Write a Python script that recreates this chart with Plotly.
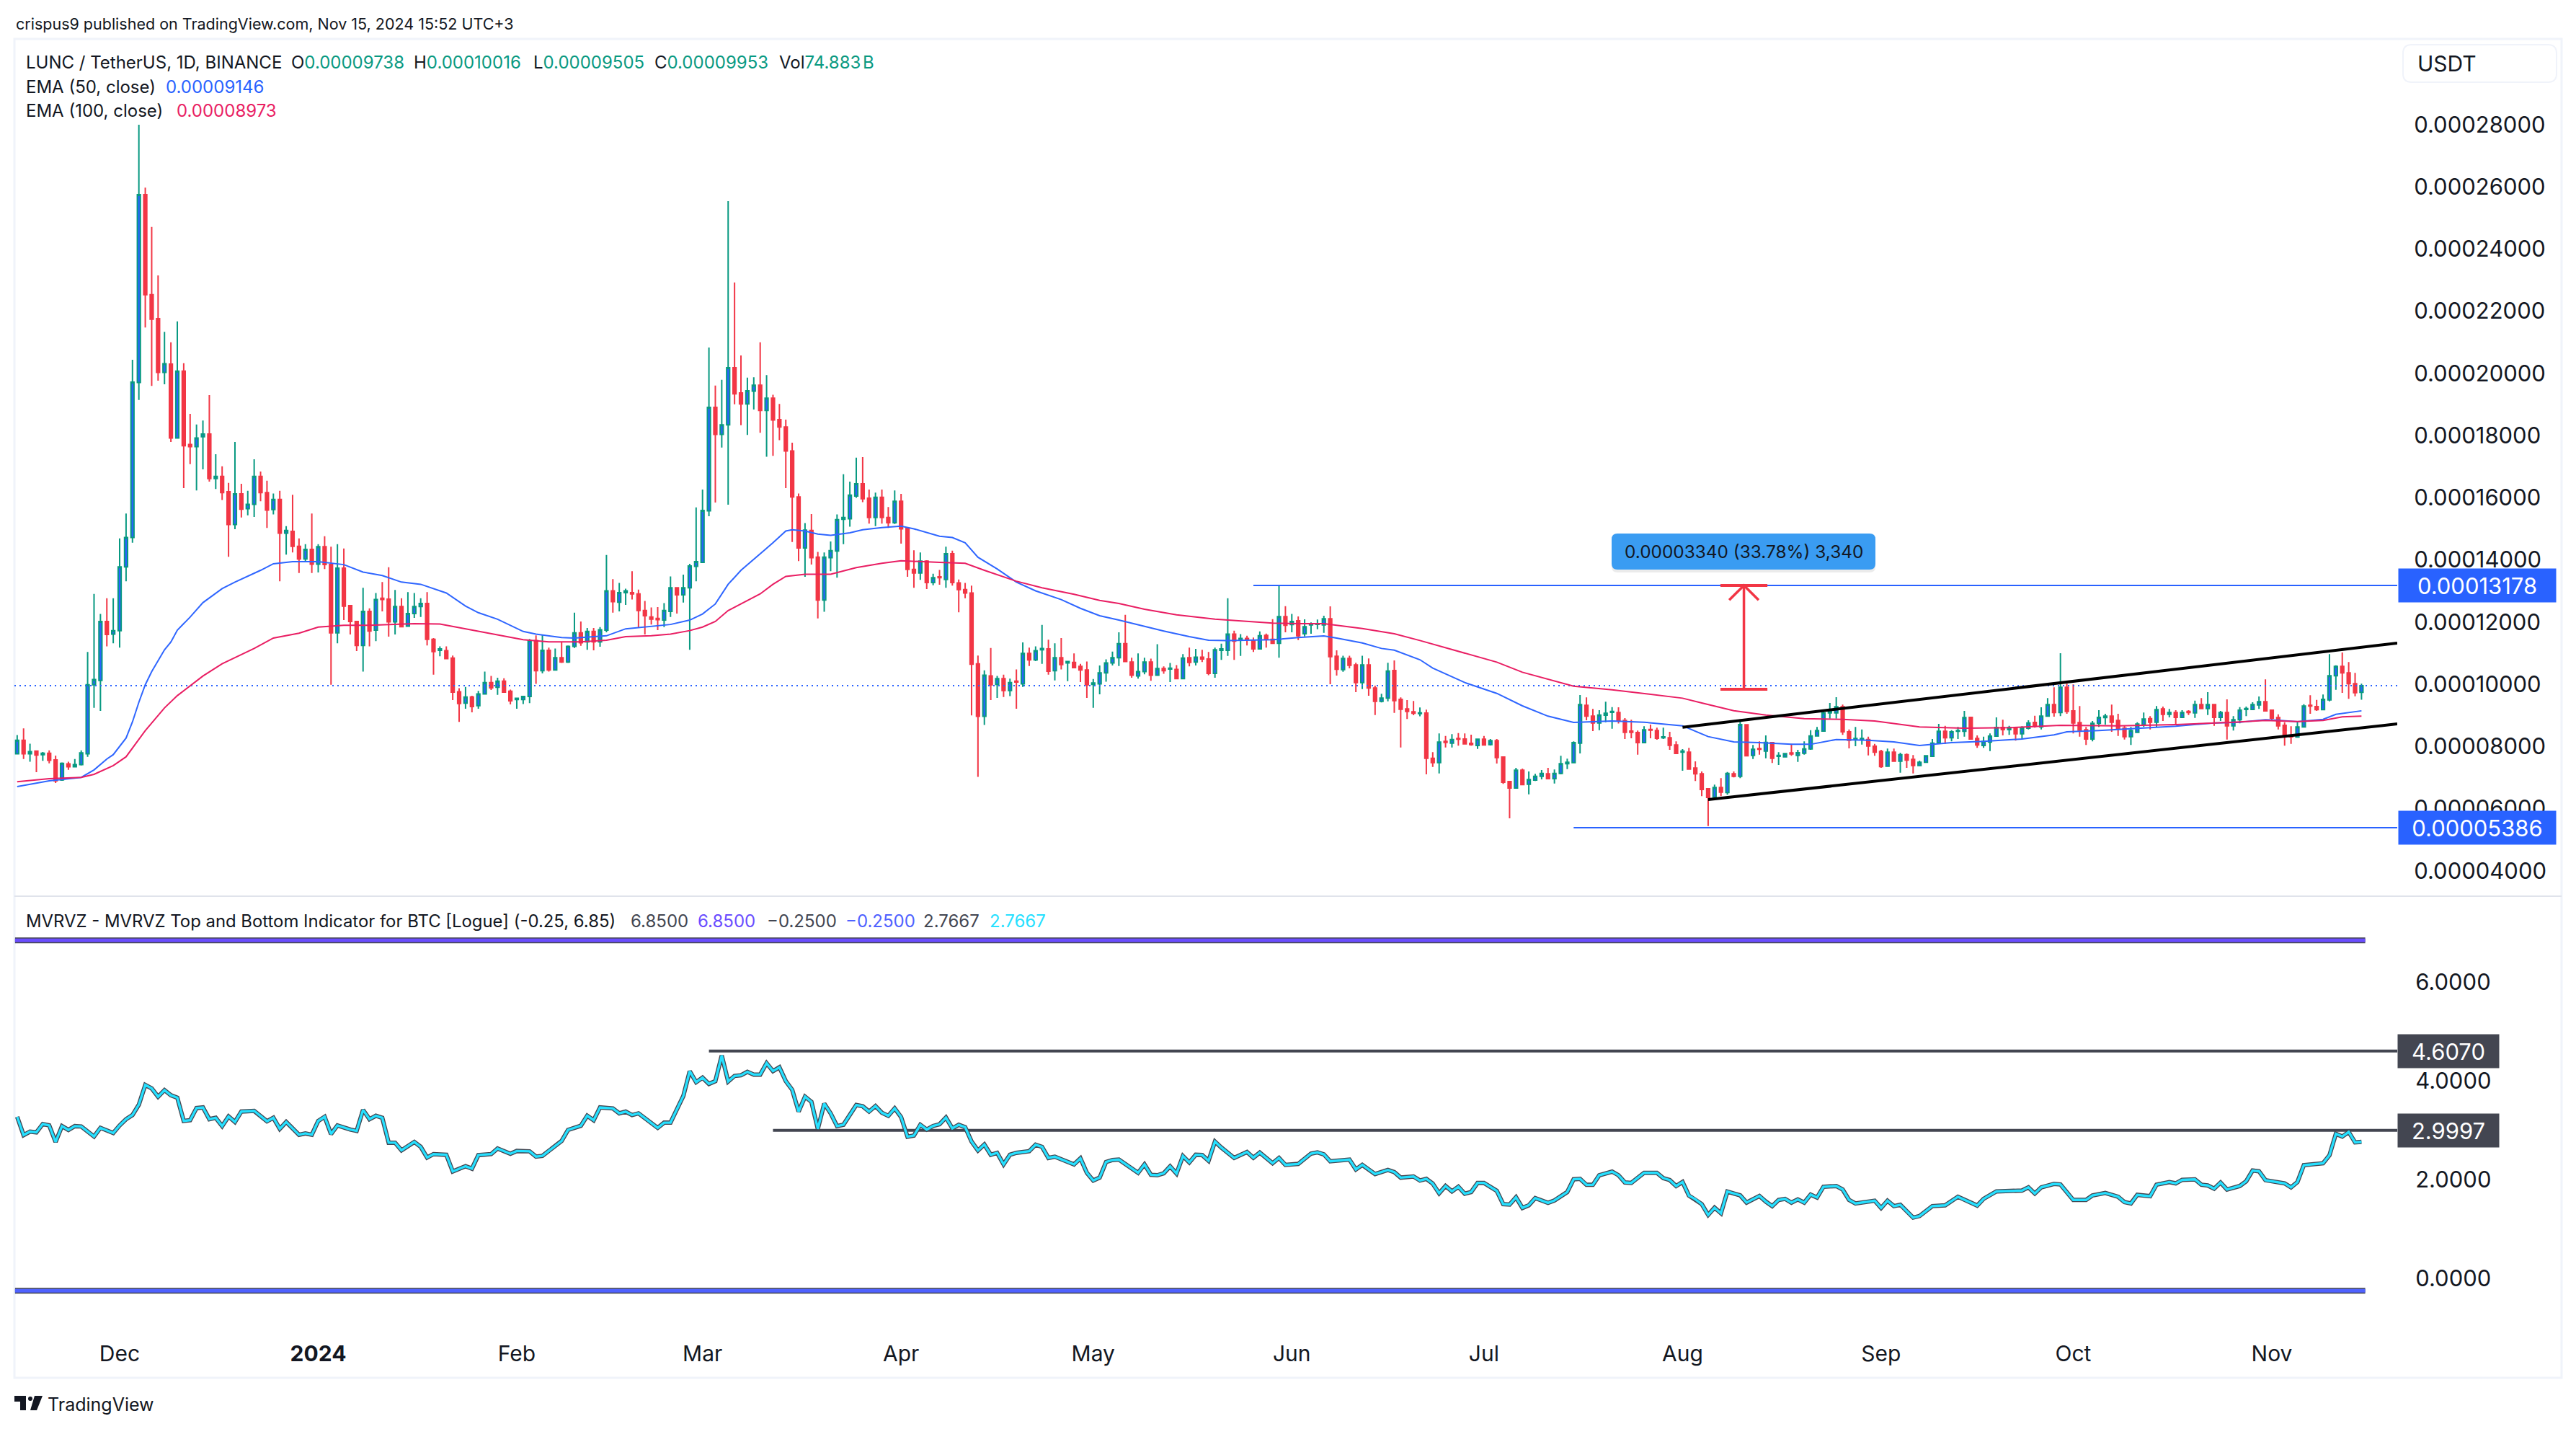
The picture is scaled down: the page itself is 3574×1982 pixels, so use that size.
"""
LUNC / USDT daily chart with EMA overlays and the MVRVZ pane below it.
"""
import numpy as np
import pandas as pd
import plotly.graph_objects as go

W = 3574
H = 1982

# Prices are kept as integers in units of 0.00000001 USDT
PRICE_UNIT = 1e-8

dates = pd.date_range("2023-11-15", periods=367, freq="D")

opens = [
    7764, 8200, 7764, 7848, 7736, 7778, 7567, 6921, 7441, 7343, 7413, 7764, 9984, 10125, 12021, 11614,
    11726, 13778, 14719, 19707, 25748, 22531, 21758, 20030, 20297, 17922, 20072, 17712, 17642, 17964, 18048, 16616,
    16686, 16194, 15140, 16124, 15646, 15786, 16686, 16166, 15618, 15941, 14860, 14916, 14438, 14030, 14340, 13862,
    14424, 13848, 11656, 13735, 12527, 12021, 11248, 12344, 11740, 12766, 12738, 12007, 12499, 11867, 12274, 12499,
    12598, 11445, 11094, 11080, 10841, 9759, 9394, 9591, 9309, 9689, 10054, 9900, 10097, 9774, 9507, 9507,
    9605, 11403, 10434, 11094, 10462, 10855, 10715, 11220, 11656, 11361, 11698, 11361, 11740, 13005, 12640, 12949,
    12949, 12906, 12372, 12162, 12120, 12063, 12344, 13103, 12878, 13103, 13792, 13918, 15576, 18905, 18034, 18344,
    20184, 19369, 19018, 19426, 19622, 18808, 19201, 18512, 18274, 17501, 16025, 14382, 14944, 14086, 12709, 14072,
    14283, 15309, 15323, 16054, 16447, 15983, 15365, 16012, 15365, 15196, 15885, 15014, 13693, 13581, 13960, 13272,
    13455, 13370, 14199, 13258, 13047, 12935, 10659, 8972, 10265, 9998, 10181, 9801, 10097, 10013, 10995, 10785,
    11108, 11136, 10434, 10855, 10687, 10701, 10574, 10462, 9998, 10013, 10364, 10687, 10855, 11305, 10715, 10265,
    10406, 10715, 10293, 10504, 10490, 10476, 10181, 10855, 10715, 10869, 10813, 10350, 11094, 11094, 11614, 11431,
    11473, 11417, 11136, 11572, 11445, 11319, 12176, 11923, 12041, 11624, 11910, 11925, 11910, 12103, 10897, 10472,
    10828, 10619, 10055, 10619, 9877, 9452, 9552, 10441, 9514, 9204, 9112, 9058, 9073, 7620, 7481, 8161,
    8107, 8254, 8238, 8099, 8029, 8231, 8060, 8184, 7659, 6870, 6661, 7233, 6785, 6916, 7040, 7117,
    6963, 7133, 7442, 7481, 8107, 9320, 8973, 8756, 9003, 9096, 9089, 8834, 8493, 8447, 8122, 8547,
    8509, 8277, 8277, 8045, 7813, 7813, 7303, 7117, 6638, 6368, 6677, 6514, 7117, 7040, 8694, 7712,
    7929, 7852, 8122, 7682, 7666, 7790, 7713, 7782, 7921, 8339, 8493, 9081, 9081, 9274, 8470, 8223,
    8223, 8223, 8006, 7836, 7364, 7813, 7527, 7736, 7581, 7388, 7488, 7682, 8122, 8486, 8277, 8486,
    8486, 8934, 8254, 8029, 8138, 8331, 8609, 8540, 8609, 8408, 8586, 8772, 8625, 8973, 9344, 9089,
    9900, 9143, 8764, 8532, 8238, 8741, 8926, 8973, 8834, 8586, 8316, 8455, 8702, 8895, 8779, 9204,
    9034, 9089, 8934, 9127, 9081, 9344, 9220, 9344, 8934, 9089, 8663, 8857, 9189, 9189, 9336, 9436,
    9166, 8926, 8679, 8354, 8300, 8625, 9320, 9282, 9181, 9498, 10271, 10573, 10364, 10016, 9738,
]
highs = [
    8368, 8580, 8087, 7848, 7820, 7876, 7708, 7483, 7511, 7595, 7876, 11038, 12906, 12260, 12766, 12766,
    14691, 15491, 20437, 27996, 25973, 24708, 23149, 21337, 20999, 21674, 20325, 18695, 18358, 18484, 19299, 17402,
    17009, 16475, 17796, 16447, 16222, 17234, 16840, 16545, 16138, 16222, 15084, 16096, 14691, 14508, 15491, 14508,
    14761, 14424, 14508, 14368, 12541, 12021, 13103, 12443, 12935, 13286, 13764, 13033, 12766, 12963, 12935, 12766,
    12963, 11487, 11220, 11220, 10925, 9872, 9914, 9633, 9787, 10406, 10265, 10209, 10195, 9830, 9563, 9633,
    11459, 11572, 11600, 11178, 11150, 11361, 11248, 12302, 12021, 11811, 11811, 11839, 14157, 13384, 13258, 13075,
    13637, 13047, 12681, 12471, 12485, 12611, 13469, 13103, 13525, 13876, 15688, 16264, 20831, 19608, 19791, 25537,
    22924, 20578, 19861, 19875, 20999, 19945, 19313, 19018, 18512, 17768, 16138, 15182, 15477, 14255, 14241, 14592,
    15463, 16756, 16517, 17290, 17304, 16264, 16166, 16264, 15703, 16236, 16124, 15042, 14311, 14241, 13988, 13553,
    13679, 14424, 14297, 13370, 13258, 13173, 10925, 10448, 11164, 10265, 10307, 10181, 10476, 11347, 11178, 11220,
    11909, 11431, 11319, 11487, 10757, 10995, 10659, 10729, 10167, 10603, 10799, 11052, 11670, 12232, 10855, 10995,
    10855, 10827, 11290, 10574, 10687, 10617, 10967, 11178, 11136, 11108, 11038, 11178, 11305, 12766, 11726, 11614,
    11558, 11501, 11698, 11628, 12092, 13187, 12513, 12260, 12181, 12088, 11987, 12080, 12204, 12505, 11091, 10920,
    10920, 10689, 10920, 10828, 9954, 9691, 10689, 10766, 9576, 9490, 9460, 9251, 9181, 7813, 8416, 8339,
    8393, 8432, 8416, 8378, 8254, 8339, 8238, 8238, 7659, 6886, 7311, 7288, 7195, 7117, 7241, 7311,
    7257, 7697, 7604, 8161, 9653, 9576, 9204, 9166, 9436, 9266, 9259, 8911, 8857, 8509, 8648, 8702,
    8602, 8602, 8470, 8161, 7914, 7952, 7519, 7195, 6654, 6770, 6978, 7179, 7195, 8872, 8702, 8045,
    8161, 8354, 8146, 7813, 7774, 8084, 7890, 8161, 8524, 8625, 9189, 9398, 9583, 9344, 8547, 8625,
    8547, 8316, 8084, 7890, 7929, 7929, 7797, 7774, 7720, 7543, 7720, 8238, 8725, 8663, 8524, 8625,
    9143, 8949, 8354, 8316, 8416, 8934, 8857, 8663, 8625, 8648, 8841, 8988, 9259, 9552, 9900, 10998,
    10016, 9993, 9297, 8625, 8818, 9166, 9050, 9344, 9050, 8663, 8625, 8779, 9089, 8973, 9297, 9282,
    9204, 9166, 9166, 9166, 9475, 9552, 9746, 9359, 9143, 9514, 8973, 9266, 9282, 9421, 9606, 10155,
    9189, 9034, 8779, 8648, 8779, 9359, 9645, 9498, 9668, 10967, 10611, 11021, 10712, 10364, 10016,
]
lows = [
    7750, 7595, 7511, 7174, 7539, 7455, 6823, 6893, 7245, 7330, 7385, 7666, 9240, 9141, 11220, 11319,
    11178, 13314, 14550, 19145, 21477, 19594, 19763, 19650, 17796, 17922, 16307, 17079, 16236, 16910, 16517, 16279,
    15927, 14101, 14986, 15365, 15435, 15379, 15885, 15028, 15464, 13314, 14171, 14241, 13581, 13918, 13581, 13595,
    13708, 9984, 11319, 12063, 11600, 11066, 10406, 11220, 11389, 12344, 11530, 11600, 11839, 11853, 12134, 12162,
    11248, 10307, 10897, 10799, 9492, 8790, 9211, 9098, 9211, 9675, 9816, 9661, 9731, 9352, 9211, 9366,
    9394, 10013, 10350, 10406, 10448, 10687, 10687, 11164, 11234, 11108, 11094, 11206, 11670, 12302, 12344, 12555,
    12724, 11811, 11600, 11923, 11740, 11839, 12162, 12274, 12625, 11108, 13314, 13904, 15407, 15843, 17613, 15773,
    19004, 18330, 18020, 18835, 18091, 17318, 17346, 17852, 16307, 14578, 13960, 13455, 13848, 12120, 12330, 13637,
    13427, 14508, 15070, 15997, 15857, 15168, 15084, 15168, 15028, 15154, 14522, 13455, 13103, 13356, 13061, 13187,
    13201, 13103, 13173, 12316, 12766, 9000, 7019, 8691, 9492, 9563, 9591, 9619, 9211, 9914, 10588, 10743,
    10659, 10307, 10125, 10476, 10097, 10518, 10068, 9563, 9240, 9675, 10083, 10603, 10588, 10729, 10209, 10181,
    10321, 10111, 10265, 10335, 10068, 10167, 10167, 10574, 10603, 10715, 10293, 10209, 10785, 10911, 10785, 10911,
    11248, 11038, 11122, 11178, 11305, 10855, 11670, 11670, 11423, 11539, 11624, 11771, 11655, 10000, 10279, 10403,
    10511, 9746, 9846, 9630, 9011, 9413, 9452, 9081, 7968, 8880, 9003, 8972, 7102, 7342, 7133, 7968,
    7968, 8022, 8076, 8022, 7921, 8022, 8029, 7450, 6793, 5687, 6638, 6762, 6460, 6885, 6940, 6947,
    6808, 7102, 7272, 7465, 7774, 8841, 8493, 8524, 8779, 8571, 8740, 8238, 8261, 7736, 8122, 8261,
    8215, 8238, 7890, 7759, 7218, 7249, 6886, 6399, 5440, 6360, 6399, 6445, 7001, 6978, 7682, 7597,
    7736, 7620, 7465, 7403, 7643, 7697, 7504, 7736, 7890, 8316, 8478, 8895, 8895, 8370, 7937, 8006,
    8060, 7713, 7697, 7311, 7349, 7504, 7156, 7311, 7133, 7372, 7473, 7659, 8107, 8084, 8161, 8238,
    8316, 8215, 7952, 7952, 7852, 8316, 8354, 8370, 8184, 8238, 8547, 8602, 8547, 8957, 8957, 8973,
    9050, 8416, 8316, 8045, 8161, 8625, 8702, 8470, 8339, 8223, 8045, 8432, 8625, 8547, 8625, 8818,
    8934, 8725, 8918, 9011, 8918, 9205, 9011, 8663, 8818, 8223, 8509, 8741, 8973, 9166, 9204, 9127,
    8857, 8547, 8022, 8084, 8292, 8617, 9050, 9143, 9166, 9452, 9823, 9722, 9529, 9614, 9505,
]
closes = [
    8200, 7764, 7834, 7722, 7778, 7553, 6893, 7455, 7343, 7413, 7792, 9984, 10153, 12021, 11600, 11726,
    13778, 14719, 19721, 25748, 22531, 21744, 20030, 20311, 17922, 20072, 17670, 17642, 17922, 18048, 16616, 16686,
    16166, 15140, 16124, 15632, 15786, 16686, 16166, 15604, 15941, 14860, 14944, 14438, 14030, 14340, 13862, 14424,
    13848, 11656, 13735, 12513, 12021, 11248, 12344, 11712, 12724, 12724, 12007, 12499, 11853, 12274, 12499, 12598,
    11445, 11052, 11136, 10827, 9745, 9380, 9591, 9281, 9689, 10054, 9886, 10097, 9745, 9465, 9549, 9605,
    11403, 10434, 11094, 10462, 10855, 10715, 11220, 11656, 11333, 11698, 11361, 11754, 13005, 12654, 12949, 13005,
    12906, 12372, 12204, 12092, 12078, 12372, 13103, 12878, 13103, 13806, 13946, 15590, 18905, 18034, 18344, 20184,
    19341, 19018, 19440, 19622, 18808, 19201, 18498, 18274, 17501, 16025, 14382, 14958, 14072, 12709, 14086, 14297,
    15295, 15365, 16082, 16447, 15969, 15365, 16012, 15365, 15196, 15885, 15000, 13693, 13581, 13960, 13272, 13427,
    13427, 14199, 13272, 13047, 12935, 10645, 8972, 10293, 9984, 10181, 9801, 10054, 10068, 10995, 10785, 11080,
    11150, 10420, 10855, 10631, 10729, 10532, 10462, 9984, 10040, 10364, 10687, 10855, 11305, 10729, 10293, 10406,
    10715, 10293, 10504, 10434, 10518, 10181, 10841, 10701, 10869, 10813, 10350, 11108, 11136, 11614, 11389, 11473,
    11431, 11136, 11558, 11445, 11319, 12176, 11895, 12021, 11562, 11848, 11933, 11949, 12103, 10890, 10480, 10828,
    10611, 10055, 10619, 9877, 9452, 9552, 10426, 9475, 9197, 9127, 9065, 9081, 7620, 7481, 8138, 8130,
    8223, 8231, 8084, 8060, 8231, 8045, 8184, 7643, 6847, 6661, 7233, 6770, 6932, 7040, 7133, 6963,
    7133, 7442, 7488, 8122, 9344, 8973, 8756, 9011, 9065, 9127, 8834, 8455, 8455, 8122, 8532, 8524,
    8261, 8308, 8037, 7774, 7852, 7272, 7117, 6615, 6360, 6677, 6530, 7133, 7040, 8702, 7697, 7906,
    7906, 8130, 7620, 7713, 7767, 7759, 7797, 7921, 8339, 8509, 9081, 9143, 9274, 8470, 8199, 8254,
    8254, 8014, 7813, 7349, 7813, 7527, 7736, 7558, 7388, 7488, 7697, 8107, 8486, 8277, 8470, 8509,
    8926, 8238, 8045, 8161, 8331, 8609, 8540, 8609, 8408, 8586, 8756, 8648, 8973, 9344, 9089, 9900,
    9127, 8756, 8524, 8238, 8741, 8934, 8973, 8779, 8571, 8316, 8509, 8717, 8880, 8779, 9181, 9034,
    9089, 8934, 9089, 9089, 9344, 9220, 9344, 8934, 9089, 8663, 8857, 9166, 9220, 9344, 9436, 9143,
    8911, 8663, 8316, 8308, 8625, 9297, 9297, 9181, 9514, 10271, 10573, 10364, 10016, 9730, 9953,
]

# EMA lines, read at the candle indexes listed next to them
ema50_idx = [
    0, 5, 10, 12, 14, 15, 17, 18, 19, 20, 21, 23, 24, 25, 27, 29, 32, 34, 38, 40, 43, 47, 51, 54, 57, 60, 63, 67,
    70, 72, 75, 79, 81, 85, 87, 92, 95, 98, 102, 105, 107, 109, 110, 111, 113, 116, 118, 120, 121, 123, 125, 127,
    130, 132, 135, 138, 140, 144, 146, 148, 150, 153, 156, 159, 163, 166, 169, 172, 175, 179, 183, 186, 189, 193,
    196, 200, 204, 206, 210, 213, 215, 219, 221, 226, 231, 235, 239, 243, 249, 254, 260, 264, 268, 272, 277, 280,
    284, 289, 293, 297, 302, 307, 313, 318, 320, 325, 332, 337, 343, 347, 351, 353, 356, 360, 362, 366,
]
ema50 = [
    6710, 6893, 7005, 7245, 7595, 7736, 8270, 8790, 9422, 9984, 10406, 11108, 11361, 11740, 12162, 12625, 13075,
    13286, 13665, 13876, 13946, 13946, 13848, 13609, 13497, 13286, 13215, 12935, 12513, 12302, 12092, 11698, 11614,
    11501, 11487, 11558, 11783, 11839, 11923, 12063, 12260, 12583, 12906, 13215, 13665, 14199, 14550, 14930, 14972,
    14930, 14831, 14789, 14873, 14972, 15042, 15084, 15000, 14761, 14719, 14550, 14086, 13708, 13286, 13005, 12724,
    12443, 12204, 12063, 11909, 11712, 11530, 11417, 11403, 11417, 11431, 11500, 11554, 11485, 11330, 11152, 11098,
    10789, 10519, 10055, 9707, 9305, 8973, 8772, 8818, 8779, 8663, 8316, 8146, 8122, 8068, 8068, 8223, 8199, 8146,
    8029, 8122, 8161, 8238, 8370, 8470, 8509, 8586, 8648, 8756, 8779, 8857, 8841, 8795, 8872, 9034, 9146,
]
ema100_idx = [
    0, 5, 10, 12, 15, 17, 20, 23, 25, 29, 32, 37, 40, 44, 47, 51, 55, 62, 66, 70, 74, 79, 83, 88, 92, 95, 99, 102,
    105, 107, 109, 111, 116, 118, 120, 123, 127, 131, 135, 138, 144, 148, 151, 156, 160, 165, 169, 172, 176, 181,
    187, 192, 196, 200, 204, 210, 215, 219, 222, 227, 231, 235, 239, 243, 249, 260, 263, 268, 273, 279, 285, 290,
    297, 304, 311, 319, 328, 337, 346, 351, 356, 360, 363, 366,
]
ema100 = [
    6865, 6963, 7005, 7104, 7385, 7666, 8509, 9240, 9633, 10265, 10659, 11150, 11487, 11642, 11839, 11895, 11895,
    11951, 11937, 11783, 11628, 11431, 11361, 11361, 11417, 11530, 11558, 11614, 11726, 11839, 12021, 12372, 12906,
    13215, 13469, 13539, 13539, 13750, 13890, 13974, 13918, 13890, 13665, 13314, 13103, 12892, 12696, 12597, 12414,
    12232, 12092, 12021, 11965, 11949, 11949, 11794, 11624, 11407, 11230, 10944, 10712, 10387, 10171, 9939, 9823,
    9552, 9398, 9150, 9011, 8895, 8872, 8818, 8625, 8586, 8602, 8679, 8663, 8702, 8779, 8834, 8803, 8834, 8949, 8973,
]

# MVRVZ values, read at the vertices of the line
mvrvz_idx = [
    0, 1, 2, 3, 4, 5, 6, 7, 8, 9, 10, 12, 13, 15, 16, 17, 18, 19, 20, 21, 22, 23, 24, 25, 26, 27, 28, 29, 30, 31, 32,
    33, 34, 35, 37, 39, 40, 41, 42, 44, 45, 46, 47, 48, 49, 50, 52, 53, 54, 55, 56, 57, 58, 59, 60, 62, 63, 64, 65,
    67, 68, 69, 70, 71, 72, 74, 75, 77, 78, 80, 81, 82, 85, 86, 88, 89, 90, 91, 93, 94, 95, 96, 97, 100, 101, 102,
    104, 105, 106, 107, 108, 109, 110, 111, 112, 113, 114, 115, 116, 117, 118, 119, 120, 121, 122, 123, 124, 125,
    126, 127, 128, 129, 131, 132, 133, 134, 135, 136, 137, 138, 139, 140, 141, 142, 143, 144, 145, 146, 147, 148,
    149, 150, 151, 152, 153, 154, 155, 156, 158, 159, 160, 161, 162, 165, 166, 167, 168, 169, 170, 171, 172, 175,
    176, 177, 178, 179, 180, 181, 182, 183, 184, 185, 186, 187, 188, 190, 192, 193, 194, 196, 197, 198, 200, 202,
    203, 204, 205, 208, 209, 210, 212, 214, 215, 216, 218, 219, 220, 221, 222, 223, 224, 225, 226, 227, 228, 229,
    231, 232, 233, 234, 235, 236, 237, 239, 240, 242, 243, 244, 245, 246, 247, 249, 250, 251, 252, 254, 256, 257,
    258, 259, 260, 261, 262, 263, 264, 265, 266, 267, 268, 269, 270, 272, 273, 274, 275, 276, 277, 278, 279, 280,
    281, 282, 284, 285, 286, 287, 290, 291, 292, 293, 294, 296, 297, 299, 301, 303, 306, 307, 309, 313, 314, 315,
    316, 318, 319, 321, 323, 324, 326, 328, 329, 330, 331, 333, 334, 336, 337, 338, 340, 341, 342, 343, 344, 345,
    347, 348, 349, 350, 351, 354, 355, 356, 357, 360, 361, 362, 363, 364, 365, 366,
]
mvrvz = [
    3.276, 2.905, 2.975, 2.961, 3.129, 3.101, 2.765, 3.087, 3.010, 3.087, 3.080, 2.877, 3.052, 2.947, 3.101, 3.227,
    3.311, 3.522, 3.921, 3.851, 3.683, 3.816, 3.711, 3.662, 3.192, 3.206, 3.452, 3.466, 3.227, 3.255, 3.087, 3.283,
    3.171, 3.381, 3.395, 3.185, 3.255, 3.031, 3.171, 2.912, 2.940, 2.912, 3.192, 3.276, 2.926, 3.101, 3.017, 2.989,
    3.416, 3.227, 3.297, 3.255, 2.751, 2.751, 2.597, 2.765, 2.667, 2.450, 2.520, 2.506, 2.169, 2.225, 2.274, 2.225,
    2.499, 2.520, 2.632, 2.527, 2.583, 2.576, 2.470, 2.484, 2.786, 3.010, 3.094, 3.297, 3.206, 3.466, 3.445, 3.346,
    3.381, 3.311, 3.346, 3.052, 3.157, 3.157, 3.697, 4.201, 3.977, 4.068, 3.942, 3.998, 4.517, 3.991, 4.103, 4.117,
    4.187, 4.131, 4.131, 4.362, 4.201, 4.278, 3.998, 3.823, 3.381, 3.683, 3.578, 3.031, 3.543, 3.346, 3.087, 3.115,
    3.515, 3.489, 3.382, 3.494, 3.358, 3.295, 3.446, 3.270, 2.871, 2.895, 3.114, 3.017, 3.090, 3.124, 3.260, 3.041,
    3.114, 3.066, 2.774, 2.593, 2.715, 2.506, 2.545, 2.311, 2.506, 2.545, 2.579, 2.710, 2.666, 2.442, 2.467, 2.311,
    2.433, 2.140, 1.985, 2.043, 2.360, 2.399, 2.408, 2.140, 2.311, 2.101, 2.092, 2.131, 2.272, 2.126, 2.481, 2.350,
    2.506, 2.501, 2.384, 2.774, 2.652, 2.442, 2.564, 2.447, 2.550, 2.335, 2.442, 2.301, 2.321, 2.530, 2.554, 2.515,
    2.374, 2.408, 2.209, 2.301, 2.116, 2.199, 2.155, 2.043, 2.067, 1.985, 2.019, 1.921, 1.726, 1.873, 1.765, 1.858,
    1.717, 1.751, 1.936, 1.936, 1.775, 1.507, 1.498, 1.644, 1.429, 1.483, 1.629, 1.532, 1.580, 1.751, 2.009, 2.019,
    1.897, 1.897, 2.092, 2.165, 2.092, 1.946, 1.936, 2.140, 2.140, 2.033, 1.994, 1.873, 1.955, 1.678, 1.605, 1.507,
    1.288, 1.434, 1.322, 1.760, 1.721, 1.683, 1.537, 1.672, 1.558, 1.466, 1.591, 1.613, 1.537, 1.602, 1.537, 1.699,
    1.640, 1.857, 1.873, 1.802, 1.591, 1.520, 1.575, 1.428, 1.575, 1.466, 1.493, 1.233, 1.265, 1.466, 1.482, 1.656,
    1.477, 1.613, 1.764, 1.781, 1.846, 1.721, 1.846, 1.916, 1.905, 1.591, 1.591, 1.683, 1.732, 1.656, 1.547, 1.520,
    1.694, 1.667, 1.900, 1.954, 1.927, 1.998, 2.008, 1.900, 1.884, 1.819, 1.943, 1.802, 1.873, 1.970, 2.187, 2.171,
    1.992, 1.927, 1.846, 1.954, 2.296, 2.334, 2.496, 2.930, 2.876, 2.968, 2.757, 2.767,
]

RANGE_START = "2023-11-14 13:40"
RANGE_END = "2024-11-20 14:00"

# Drawn levels and channel
high_level = 13178
low_level = 5386
last_close = 9953
high_level_start = "2024-05-26"
low_level_start = "2024-07-15"
upper_channel_x = ["2024-08-01", RANGE_END]
upper_channel_y = [8616, 11323]
lower_channel_x = ["2024-08-05", RANGE_END]
lower_channel_y = [6290, 8725]

# Red measuring arrow
measure_x = "2024-08-10 14:00"
measure_cap_x = ["2024-08-06 22:00", "2024-08-14 06:00"]
measure_head_x = ["2024-08-08 07:00", "2024-08-12 21:00"]
measure_bottom = 9838
measure_top = 13178
measure_head_y = 12710

mvrvz_high = 4.6070
mvrvz_low = 2.9997
mvrvz_high_start = "2024-03-02"
mvrvz_low_start = "2024-03-12"
band_top = 6.85
band_bottom = -0.25
band_x = ["2023-11-14 16:00", "2024-11-15 14:00"]

price_ticks = [28000, 26000, 24000, 22000, 20000, 18000, 16000, 14000, 12000, 10000, 8000, 6000, 4000]
mvrvz_ticks = [0, 2, 4, 6]
month_ticks = ["2023-12-01", "2024-01-01", "2024-02-01", "2024-03-01", "2024-04-01", "2024-05-01",
               "2024-06-01", "2024-07-01", "2024-08-01", "2024-09-01", "2024-10-01", "2024-11-01"]
month_labels = ["Dec", "<b>2024</b>", "Feb", "Mar", "Apr", "May", "Jun", "Jul", "Aug", "Sep", "Oct", "Nov"]

TEXT = "#131722"
GREEN = "#089981"
RED = "#F23645"
BLUE = "#2962FF"
PINK = "#E91E63"
SLATE = "#434651"
CYAN = "#26E0FF"
PURPLE = "#6A4DFF"
INDIGO = "#4F62FF"
FONT = "Inter"


def px(x):
    return x / W


def py(y):
    return 1 - y / H


def prices(values):
    return np.array(values, dtype=float) * PRICE_UNIT


def rounded_path(x0, y0, x1, y1, r):
    """SVG path of a rounded box, given in page pixels, in paper coordinates"""
    pts = [
        ("M", x0 + r, y0), ("L", x1 - r, y0), ("Q", x1, y0), ("", x1, y0 + r),
        ("L", x1, y1 - r), ("Q", x1, y1), ("", x1 - r, y1),
        ("L", x0 + r, y1), ("Q", x0, y1), ("", x0, y1 - r),
        ("L", x0, y0 + r), ("Q", x0, y0), ("", x0 + r, y0),
    ]
    return " ".join(f"{c}{px(x):.6f},{py(y):.6f}" for c, x, y in pts) + " Z"


def add_line(fig, x, y, color, width, yaxis="y", dash=None):
    fig.add_trace(
        go.Scatter(
            x=x, y=y, yaxis=yaxis, mode="lines", hoverinfo="skip", showlegend=False,
            line=dict(color=color, width=width, dash=dash),
        )
    )


def add_text(fig, x, y, text, color=TEXT, size=24, anchor="left"):
    fig.add_annotation(
        text=text, xref="paper", yref="paper", x=px(x), y=py(y), xanchor=anchor, yanchor="middle",
        showarrow=False, font=dict(family=FONT, size=size, color=color),
    )


def add_tag(fig, y, yref, text, color, center, width):
    fig.add_annotation(
        text=text, xref="paper", yref=yref, x=px(center), y=y, xanchor="center", yanchor="middle",
        showarrow=False, width=width, height=46, borderpad=0, bgcolor=color,
        font=dict(family=FONT, size=31, color="white"),
    )


fig = go.Figure()

fig.add_trace(
    go.Candlestick(
        x=dates, open=prices(opens), high=prices(highs), low=prices(lows), close=prices(closes),
        whiskerwidth=0, hoverinfo="skip", showlegend=False,
        increasing=dict(line=dict(color=GREEN, width=2), fillcolor=BLUE),
        decreasing=dict(line=dict(color=RED, width=2), fillcolor=RED),
    )
)

add_line(fig, [RANGE_START, RANGE_END], prices([last_close, last_close]), BLUE, 2, dash="2px,5px")
add_line(fig, dates[ema50_idx], prices(ema50), "#2F66FF", 2)
add_line(fig, dates[ema100_idx], prices(ema100), PINK, 2)
add_line(fig, [high_level_start, RANGE_END], prices([high_level, high_level]), BLUE, 2)
add_line(fig, [low_level_start, RANGE_END], prices([low_level, low_level]), BLUE, 2)
add_line(fig, upper_channel_x, prices(upper_channel_y), "black", 4)
add_line(fig, lower_channel_x, prices(lower_channel_y), "black", 4)

# Measuring arrow: shaft, both caps and the head
add_line(fig, [measure_x, measure_x], prices([measure_bottom, measure_top]), RED, 3.5)
add_line(fig, measure_cap_x, prices([measure_bottom, measure_bottom]), RED, 4)
add_line(fig, measure_cap_x, prices([measure_top, measure_top]), RED, 4)
add_line(fig, [measure_head_x[0], measure_x, measure_head_x[1]],
         prices([measure_head_y, measure_top, measure_head_y]), RED, 3.5)

# Lower pane
add_line(fig, band_x, [band_top, band_top], SLATE, 8, yaxis="y2")
add_line(fig, band_x, [band_top, band_top], PURPLE, 5, yaxis="y2")
add_line(fig, band_x, [band_bottom, band_bottom], SLATE, 8, yaxis="y2")
add_line(fig, band_x, [band_bottom, band_bottom], INDIGO, 5, yaxis="y2")
add_line(fig, [mvrvz_high_start, RANGE_END], [mvrvz_high, mvrvz_high], SLATE, 4, yaxis="y2")
add_line(fig, [mvrvz_low_start, RANGE_END], [mvrvz_low, mvrvz_low], SLATE, 4, yaxis="y2")
add_line(fig, dates[mvrvz_idx], mvrvz, SLATE, 6, yaxis="y2")
add_line(fig, dates[mvrvz_idx], mvrvz, CYAN, 3.4, yaxis="y2")

fig.update_layout(
    width=W,
    height=H,
    autosize=False,
    margin=dict(l=0, r=0, t=0, b=0, pad=0),
    paper_bgcolor="white",
    plot_bgcolor="white",
    showlegend=False,
    boxgap=0.32,
    font=dict(family=FONT, color=TEXT),
    xaxis=dict(
        domain=[px(20), px(3326)],
        range=[RANGE_START, RANGE_END],
        anchor="y2",
        type="date",
        rangeslider=dict(visible=False),
        showgrid=False,
        zeroline=False,
        showline=False,
        tickmode="array",
        tickvals=month_ticks,
        ticktext=month_labels,
        ticks="outside",
        ticklen=6,
        tickcolor="rgba(0,0,0,0)",
        tickangle=0,
        tickfont=dict(family=FONT, size=30, color=TEXT),
    ),
    yaxis=dict(
        domain=[py(1243), py(55)],
        range=[3183 * PRICE_UNIT, 30734 * PRICE_UNIT],
        anchor="x",
        side="right",
        showgrid=False,
        zeroline=False,
        showline=False,
        tickmode="array",
        tickvals=prices(price_ticks),
        ticktext=[f"{t * PRICE_UNIT:.8f}" for t in price_ticks],
        ticks="outside",
        ticklen=16,
        tickcolor="rgba(0,0,0,0)",
        tickfont=dict(family=FONT, size=31, color=TEXT),
    ),
    yaxis2=dict(
        domain=[py(1845), py(1244)],
        range=[-1.049, 7.731],
        anchor="x",
        side="right",
        showgrid=False,
        zeroline=False,
        showline=False,
        tickmode="array",
        tickvals=mvrvz_ticks,
        ticktext=[f"{t:.4f}" for t in mvrvz_ticks],
        ticks="outside",
        ticklen=18,
        tickcolor="rgba(0,0,0,0)",
        tickfont=dict(family=FONT, size=31, color=TEXT),
    ),
)

shapes = [
    # Chart frame and pane divider
    dict(type="rect", xref="paper", yref="paper", x0=px(20), x1=px(3554), y0=py(1911), y1=py(54),
         line=dict(color="#F0F3FA", width=3), layer="below"),
    dict(type="line", xref="paper", yref="paper", x0=px(20), x1=px(3554), y0=py(1243), y1=py(1243),
         line=dict(color="#E0E3EB", width=2), layer="below"),
    # USDT box
    dict(type="path", xref="paper", yref="paper", path=rounded_path(3334, 62, 3547, 114, 12),
         line=dict(color="#F0F3FA", width=2), fillcolor="white"),
    # Measure tooltip and its shadow
    dict(type="path", xref="paper", yref="paper", path=rounded_path(2236, 744, 2602, 794, 8),
         line=dict(width=0), fillcolor="rgba(0,0,0,0.08)"),
    dict(type="path", xref="paper", yref="paper", path=rounded_path(2236, 740, 2602, 790, 8),
         line=dict(width=0), fillcolor="#3A9CF2"),
    # TradingView logo
    dict(type="path", xref="paper", yref="paper", line=dict(width=0), fillcolor=TEXT,
         path=" ".join(f"{c}{px(x):.6f},{py(y):.6f}" for c, x, y in [
             ("M", 20, 1936), ("L", 36, 1936), ("L", 36, 1956), ("L", 28, 1956), ("L", 28, 1944), ("L", 20, 1944),
         ]) + " Z"),
    dict(type="circle", xref="paper", yref="paper", x0=px(39), x1=px(45), y0=py(1943), y1=py(1937),
         line=dict(width=0), fillcolor=TEXT),
    dict(type="path", xref="paper", yref="paper", line=dict(width=0), fillcolor=TEXT,
         path=" ".join(f"{c}{px(x):.6f},{py(y):.6f}" for c, x, y in [
             ("M", 48, 1936), ("L", 59, 1936), ("L", 51, 1956), ("L", 42, 1956),
         ]) + " Z"),
]
fig.update_layout(shapes=shapes)

add_text(fig, 20, 33, "crispus9 published on TradingView.com, Nov 15, 2024 15:52 UTC+3", size=21.5)

add_text(fig, 34, 86, "LUNC / TetherUS, 1D, BINANCE")
add_text(fig, 402, 86, f'O<span style="color:{GREEN}">0.00009738</span>')
add_text(fig, 572, 86, f'H<span style="color:{GREEN}">0.00010016</span>')
add_text(fig, 738, 86, f'L<span style="color:{GREEN}">0.00009505</span>')
add_text(fig, 906, 86, f'C<span style="color:{GREEN}">0.00009953</span>')
add_text(fig, 1079, 86, f'Vol<span style="color:{GREEN}">74.883</span>')
add_text(fig, 1195, 86, "B", color=GREEN)
add_text(fig, 34, 120, "EMA (50, close)")
add_text(fig, 228, 120, "0.00009146", color=BLUE)
add_text(fig, 34, 154, "EMA (100, close)")
add_text(fig, 243, 154, "0.00008973", color=PINK)

add_text(fig, 3352, 88, "USDT", size=30)
add_text(fig, 2419, 765, "0.00003340 (33.78%) 3,340", size=24.4, anchor="center")

add_text(fig, 34, 1277, "MVRVZ - MVRVZ Top and Bottom Indicator for BTC [Logue] (-0.25, 6.85)", size=23.9)
add_text(fig, 873, 1277, "6.8500", color=SLATE)
add_text(fig, 966, 1277, "6.8500", color=PURPLE)
add_text(fig, 1062, 1277, "\u22120.2500", color=SLATE)
add_text(fig, 1171, 1277, "\u22120.2500", color=INDIGO)
add_text(fig, 1279, 1277, "2.7667", color=SLATE)
add_text(fig, 1371, 1277, "2.7667", color=CYAN)

add_text(fig, 64, 1948, "TradingView", size=25)

add_tag(fig, high_level * PRICE_UNIT, "y", "0.00013178", BLUE, 3437, 218)
add_tag(fig, low_level * PRICE_UNIT, "y", "0.00005386", BLUE, 3437, 218)
add_tag(fig, mvrvz_high, "y2", "4.6070", SLATE, 3397, 140)
add_tag(fig, mvrvz_low, "y2", "2.9997", SLATE, 3397, 140)

fig.write_html("out.html", config={"displayModeBar": False}, post_script="document.body.style.margin='0';")
